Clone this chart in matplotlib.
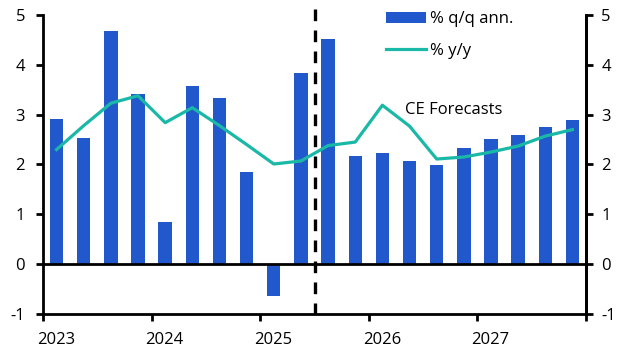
import matplotlib
matplotlib.use("Agg")
import matplotlib.pyplot as plt
import numpy as np
from matplotlib.patches import Patch
from matplotlib.lines import Line2D

plt.rcParams['font.family'] = ['Open Sans', 'DejaVu Sans']
plt.rcParams['axes.unicode_minus'] = False

quarters = ["2023Q1","2023Q2","2023Q3","2023Q4","2024Q1","2024Q2","2024Q3","2024Q4",
            "2025Q1","2025Q2","2025Q3","2025Q4","2026Q1","2026Q2","2026Q3","2026Q4",
            "2027Q1","2027Q2","2027Q3","2027Q4"]
qq_ann = [2.92, 2.54, 4.68, 3.42, 0.84, 3.58, 3.34, 1.84, -0.63, 3.84,
          4.52, 2.18, 2.24, 2.08, 1.98, 2.34, 2.52, 2.60, 2.76, 2.90]
yy = [2.30, 2.78, 3.23, 3.38, 2.84, 3.14, 2.78, 2.40, 2.01, 2.07,
      2.38, 2.45, 3.19, 2.77, 2.11, 2.15, 2.25, 2.37, 2.57, 2.70]
year_ticks = [2023, 2024, 2025, 2026, 2027, 2028]
year_labels = ["2023", "2024", "2025", "2026", "2027"]
forecast_start = 2025.5

bar_color = "#2159CC"
line_color = "#1AB8A6"

x = np.array([int(q[:4]) + (int(q[-1]) - 0.5) / 4 for q in quarters])

fig = plt.figure(figsize=(6.31, 3.57), dpi=100)
ax = fig.add_axes([43/631, 1 - 314/357, (586-43)/631, (314-15)/357])

ax.bar(x, qq_ann, width=0.123, color=bar_color, zorder=2)
ax.plot(x, yy, color=line_color, lw=2.3, zorder=3)
ax.axhline(0, color="black", lw=2, zorder=4)
ax.plot([forecast_start, forecast_start], [5.12, -1], color="black", lw=2.4,
        ls=(0, (3.5, 2.8)), zorder=5, clip_on=False)

ax.set_xlim(2023, 2028)
ax.set_ylim(-1, 5)
ax.set_yticks(range(-1, 6))
ax.set_xticks(year_ticks)
ax.set_xticklabels([""] * len(year_ticks))
ax.set_xticks([int(l) + 0.12 for l in year_labels], minor=True)
ax.set_xticklabels(year_labels, minor=True)
ax.spines["top"].set_visible(False)
for s in ["left", "right", "bottom"]:
    ax.spines[s].set_linewidth(2)
ax.tick_params(axis="both", width=2, length=5, labelsize=12, direction="out", color="black")
ax.tick_params(axis="x", which="minor", length=0, labelsize=12, pad=13)
ax.tick_params(axis="y", pad=8)

ax2 = ax.twinx()
ax2.set_ylim(-1, 5)
ax2.set_yticks(range(-1, 6))
for s in ["top", "left", "bottom"]:
    ax2.spines[s].set_visible(False)
ax2.spines["right"].set_linewidth(2)
ax2.tick_params(axis="y", width=2, length=5, labelsize=12, pad=6)

handles = [Patch(facecolor=bar_color, edgecolor="none"),
           Line2D([0], [0], color=line_color, lw=2.3)]
leg = fig.legend(handles, ["% q/q ann.", "% y/y"], loc="upper left",
                 bbox_to_anchor=(383/631, 1 - 8/357), frameon=False, fontsize=12,
                 handlelength=2.4, handleheight=0.65, handletextpad=0.25,
                 labelspacing=0.95, borderaxespad=0, borderpad=0.2)

ax.text(2026.33, 3.1, "CE Forecasts", fontsize=12, ha="left", va="center")

fig.savefig("out.png", dpi=100)
